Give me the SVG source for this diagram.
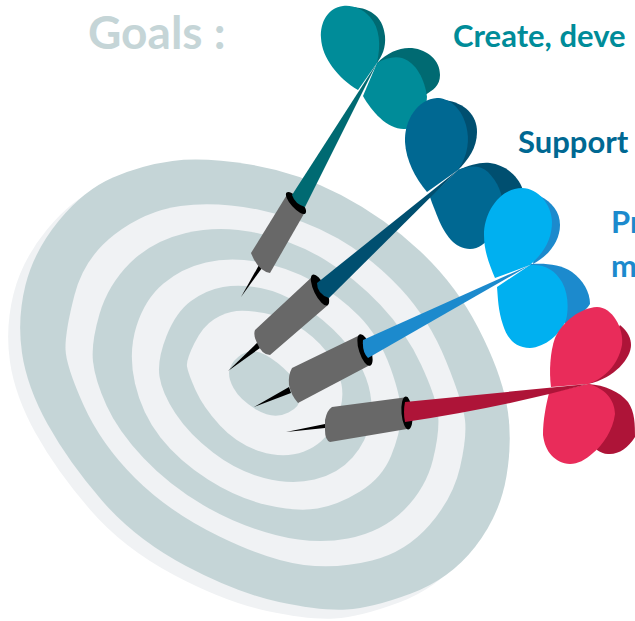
<svg xmlns="http://www.w3.org/2000/svg" width="635" height="621" viewBox="0 0 635 621">
<style>
text{font-family:"Lato","Carlito","Liberation Sans",sans-serif;font-weight:700}
.d{fill:#C5D5D7}.l{fill:#F0F2F4}.g{fill:#686868}.k{fill:#000}
.t1{fill:#008C99}.t2{fill:#006A72}.b1{fill:#006892}.b2{fill:#004F70}.c1{fill:#00B0F0}.c2{fill:#1C8ACD}.r1{fill:#E92C5A}.r2{fill:#AE1438}
</style>
<defs>
<path id="outer" d="M250 164.5Q297 172 341 195Q385 218 420.5 251.5Q456 285 478 327.5Q500 370 506.5 403.5Q513 437 506.5 476Q500 515 475 547Q450 579 411 593.5Q372 608 346.5 609.5Q321 611 279 602Q237 593 186 566Q135 539 101.5 500Q68 461 47.5 424Q27 387 22 353Q17 319 25.5 285Q34 251 59 220.5Q84 190 113 177.5Q142 165 172.5 161Q203 157 250 164.5Z"/>
</defs>
<g id="board">
<use href="#outer" class="l" transform="translate(-12 9)"/>
<use href="#outer" class="d"/>
<path class="l" d="M260 210Q304 219 338 238.5Q372 258 400.5 288.5Q429 319 446 361Q463 403 465 420Q467 437 460 467.5Q453 498 429.5 525Q406 552 372 560.5Q338 569 304 565Q270 561 219.5 536.5Q169 512 135 478Q101 444 83.5 405Q66 366 65.5 349Q65 332 74.5 295Q84 258 114.5 234.5Q145 211 180.5 206Q216 201 260 210Z"/>
<path class="d" d="M257 233Q294 241 324.5 259.5Q355 278 380.5 305Q406 332 421 364.5Q436 397 438 414Q440 431 433 459.5Q426 488 404 510Q382 532 348 538.5Q314 545 275.5 535Q237 525 203 505Q169 485 143.5 458Q118 431 106.5 405.5Q95 380 93 361.5Q91 343 99.5 314Q108 285 130 263Q152 241 186 233Q220 225 257 233Z"/>
<path class="l" d="M258.5 262Q287 267 312.5 281Q338 295 358.5 315.5Q379 336 390.5 368Q402 400 401 417Q400 434 391 456Q382 478 360 491.5Q338 505 317.5 508.5Q297 512 267 505Q237 498 208 479.5Q179 461 160.5 437.5Q142 414 135 383.5Q128 353 136.5 326Q145 299 163.5 283.5Q182 268 206 262.5Q230 257 258.5 262Z"/>
<path class="d" d="M260.5 288Q281 292 302.5 305.5Q324 319 341 337.5Q358 356 366 378Q374 400 370.5 420.5Q367 441 352.5 457.5Q338 474 314.5 479.5Q291 485 264 478Q237 471 213 452.5Q189 434 175.5 413.5Q162 393 159.5 376.5Q157 360 166.5 336Q176 312 191 301Q206 290 223 287Q240 284 260.5 288Z"/>
<path class="l" d="M264 313Q281 316 297.5 326Q314 336 326 351Q338 366 341.5 384.5Q345 403 334.5 423.5Q324 444 304 451.5Q284 459 260.5 451.5Q237 444 220 425.5Q203 407 195.5 390Q188 373 187 366.5Q186 360 194.5 343Q203 326 214.5 319Q226 312 236.5 311Q247 310 264 313Z"/>
<path class="d" d="M260 352.5Q270 356 283.5 368Q297 380 300 392.5Q303 405 288.5 412.5Q274 420 257 410Q240 400 233.5 388Q227 376 230 368Q233 360 241.5 354.5Q250 349 260 352.5Z"/>
</g>
<g id="title"><text x="88" y="49" font-size="46" class="d">Goals :</text></g>
<g id="labels">
<text x="453" y="47" font-size="31" class="t1">Create, deve</text>
<text x="518" y="153" font-size="31" class="b1">Support</text>
<text x="611" y="233" font-size="31" class="c2">Pr</text>
<text x="611" y="277" font-size="31" class="c2">m</text>
</g>
<g id="dart1">
<path class="t2" d="M350 7C368 7 383 15 385 36C386 48 382 56 377 63L370 30Z"/>
<path class="t2" d="M377 63C388 52 400 47 412 48C428 50 440 60 440 75C440 86 433 90 425 95L400 90Z"/>
<path class="t1" d="M377 63C381 45 380 28 370 17C362 8 352 5 343 6C328 8 320 22 321 38C322 58 338 78 358 90Z"/>
<path class="t1" d="M377 63C385 58 395 56 402 58C416 62 425 80 427 97C426 112 418 128 405 129C388 130 372 112 363 96Z"/>
<path class="k" d="M259 265L241 297L262 268Z"/>
<path class="g" d="M288 193L305 212L270 273Q258 271 251 253Z"/>
<ellipse class="k" cx="296" cy="203" rx="14" ry="5" transform="rotate(48 296 203)"/>
<path class="t2" d="M377 63L292 195Q295 204 305 207Z"/>
</g>
<g id="dart2">
<path class="b2" d="M445 100C465 103 477 115 477 132C477 148 468 160 458 170Z"/>
<path class="b2" d="M458 170C470 165 480 162 490 163C505 165 518 175 523 190L500 215Z"/>
<path class="b1" d="M458 170C468 155 470 140 466 125C460 105 447 98 437 98C418 99 404 120 405 142C406 160 415 178 427 192Z"/>
<path class="b1" d="M458 170C470 165 480 165 488 172C498 182 503 195 503 207C500 225 487 249 470 249C455 249 445 235 438 218C434 208 432 203 430 197Z"/>
<path class="k" d="M258 342L228 371L260 348Z"/>
<path class="g" d="M313 276L328 305L270 355Q262 355 257 343Q253 335 255 330Z"/>
<ellipse class="k" cx="320" cy="290" rx="17" ry="6" transform="rotate(64 320 290)"/>
<path class="b2" d="M458 170L317 283Q317 294 329 298Z"/>
</g>
<g id="dart3">
<path class="c2" d="M540 196C552 202 560 212 560 225C560 240 550 255 533 264Z"/>
<path class="c2" d="M530 264C545 263 560 264 572 272C583 280 590 292 590 304C585 312 575 318 565 324Z"/>
<path class="c1" d="M530 265C545 252 552 238 552 222C552 205 538 188 522 188C500 188 484 212 484 235C484 252 490 266 495 278Z"/>
<path class="c1" d="M530 265C545 264 555 270 562 282C568 293 569 308 566 320C560 335 545 347 530 348C515 348 507 338 503 325C498 310 498 298 497 287Z"/>
<path class="k" d="M289 387L254 407L291 393Z"/>
<path class="g" d="M360 335L370 365L298 403Q291 395 289 385Q288 375 292 368Z"/>
<ellipse class="k" cx="365" cy="350" rx="16.5" ry="6" transform="rotate(72 365 350)"/>
<path class="c2" d="M530 265L363 340Q362 352 368 358Z"/>
</g>
<g id="dart4">
<path class="r2" d="M620 325C628 332 631 338 631 345C631 358 615 378 588 384Z"/>
<path class="r2" d="M588 384C605 385 620 392 628 402C635 412 635 425 635 437C628 448 618 455 608 454C604 454 600 452 597 450Z"/>
<path class="r1" d="M588 384C605 378 618 365 622 345C624 328 612 307 597 307C580 308 562 322 555 338C550 352 549 372 551 387Z"/>
<path class="r1" d="M588 384C605 388 615 400 615 414C613 430 603 445 593 453C585 460 578 464 570 464C555 463 545 452 543 435C543 420 546 405 549 393Z"/>
<path class="k" d="M325 424L286 432L325 428Z"/>
<path class="g" d="M408 397L407 429L330 442Q325 440 325 430L325 420Q327 410 332 407Z"/>
<ellipse class="k" cx="407" cy="413" rx="16.5" ry="5.5" transform="rotate(85 407 413)"/>
<path class="r2" d="M588 384L405 402Q403 412 405 422Q500 408 588 384Z"/>
</g>
</svg>
